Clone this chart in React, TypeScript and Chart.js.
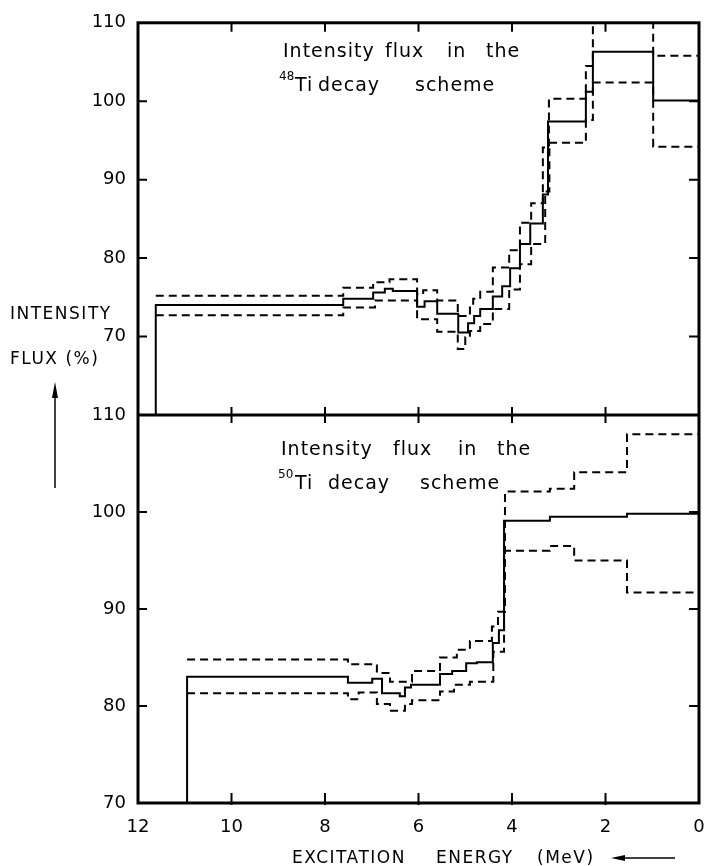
import React, { useEffect, useRef } from 'react';
import { Chart, registerables } from 'chart.js';

Chart.register(...registerables);

// ---------- axes ----------
const X_TICKS = [12, 10, 8, 6, 4, 2, 0];
const TOP_Y_TICKS = [70, 80, 90, 100, 110];
const BOT_Y_TICKS = [70, 80, 90, 100, 110];

// ---------- 48Ti decay scheme (top panel) ----------
const ti48Energy = [11.62, 11.62, 7.61, 6.97, 6.72, 6.55, 6.03, 5.87, 5.6, 5.15, 4.94, 4.81, 4.68, 4.41, 4.21, 4.04, 3.83, 3.61, 3.34, 3.23, 2.42, 2.27, 0.98, 0];
const ti48Flux = [60, 74.0, 74.8, 75.6, 76.1, 75.8, 73.8, 74.5, 72.9, 70.5, 71.7, 72.6, 73.5, 75.1, 76.4, 78.7, 81.8, 84.4, 88.1, 97.4, 101.2, 106.3, 100.1, 100.1];

const ti48UpperEnergy = [11.62, 7.61, 6.97, 6.62, 6.03, 5.9, 5.6, 5.16, 4.9, 4.83, 4.68, 4.41, 4.06, 3.83, 3.59, 3.34, 3.21, 2.42, 2.27, 0.98, 0];
const ti48Upper = [75.2, 76.2, 76.9, 77.3, 75.4, 75.9, 74.6, 72.6, 73.7, 74.8, 75.7, 78.8, 81.0, 84.5, 87.0, 94.1, 100.3, 104.5, 113, 105.8, 105.8];

const ti48LowerEnergy = [11.62, 7.61, 6.93, 6.03, 5.6, 5.16, 5.0, 4.9, 4.68, 4.41, 4.06, 3.83, 3.59, 3.29, 3.2, 2.42, 2.27, 0.98, 0];
const ti48Lower = [72.7, 73.7, 74.6, 72.2, 70.6, 68.4, 69.9, 70.7, 71.6, 73.5, 76.0, 79.2, 81.8, 88.5, 94.7, 97.6, 102.4, 94.2, 94.2];

// ---------- 50Ti decay scheme (bottom panel) ----------
const ti50Energy = [10.95, 10.95, 7.51, 6.99, 6.78, 6.4, 6.29, 6.16, 5.54, 5.28, 4.98, 4.75, 4.41, 4.28, 4.17, 3.19, 1.54, 0];
const ti50Flux = [70, 83.0, 82.4, 82.8, 81.3, 81.0, 81.9, 82.2, 83.3, 83.6, 84.4, 84.5, 86.5, 87.8, 99.1, 99.5, 99.8, 99.8];

const ti50UpperEnergy = [10.95, 7.51, 6.89, 6.61, 6.14, 5.54, 5.18, 4.9, 4.43, 4.3, 4.15, 3.19, 2.67, 1.54, 0];
const ti50Upper = [84.8, 84.3, 83.4, 82.5, 83.6, 85.0, 85.8, 86.7, 88.2, 89.7, 102.1, 102.4, 104.1, 108.0, 108.0];

const ti50LowerEnergy = [10.95, 7.51, 7.28, 6.89, 6.61, 6.29, 6.14, 5.54, 5.24, 4.9, 4.4, 4.17, 3.19, 2.67, 1.54, 0];
const ti50Lower = [81.3, 80.7, 81.4, 80.2, 79.5, 80.2, 80.6, 81.5, 82.2, 82.5, 85.6, 96.0, 96.5, 95.0, 91.7, 91.7];

const FONT = '"DejaVu Sans", sans-serif';

const pts = (e: number[], v: number[]) => e.map((x, i) => ({ x, y: v[i] }));

const framePlugin = {
  id: 'frame',
  afterDatasetsDraw(chart: any) {
    const { ctx, chartArea: a, scales } = chart;
    const xs = scales.x;
    const yt = scales.yTop;
    const yb = scales.yBot;
    const mid = yt.bottom;
    ctx.save();
    ctx.strokeStyle = '#000';
    ctx.lineCap = 'butt';
    ctx.lineWidth = 3;
    ctx.strokeRect(a.left, a.top, a.right - a.left, a.bottom - a.top);
    ctx.beginPath();
    ctx.moveTo(a.left, mid);
    ctx.lineTo(a.right, mid);
    ctx.stroke();
    ctx.lineWidth = 2;
    ctx.beginPath();
    for (const v of X_TICKS) {
      if (v === 0 || v === 12) continue;
      const px = xs.getPixelForValue(v);
      ctx.moveTo(px, a.top);
      ctx.lineTo(px, a.top + 9);
      ctx.moveTo(px, mid - 8);
      ctx.lineTo(px, mid + 8);
      ctx.moveTo(px, a.bottom - 10);
      ctx.lineTo(px, a.bottom + 2);
    }
    for (const v of TOP_Y_TICKS) {
      if (v === 110) continue;
      const py = yt.getPixelForValue(v);
      ctx.moveTo(a.left, py);
      ctx.lineTo(a.left + 9, py);
      ctx.moveTo(a.right - 10, py);
      ctx.lineTo(a.right, py);
    }
    for (const v of BOT_Y_TICKS) {
      if (v === 110 || v === 70) continue;
      const py = yb.getPixelForValue(v);
      ctx.moveTo(a.left, py);
      ctx.lineTo(a.left + 9, py);
      ctx.moveTo(a.right - 10, py);
      ctx.lineTo(a.right, py);
    }
    ctx.stroke();
    ctx.restore();
  },
};

const textPlugin = {
  id: 'texts',
  afterDraw(chart: any) {
    const ctx = chart.ctx;
    ctx.save();
    ctx.fillStyle = '#000';
    ctx.textAlign = 'left';
    ctx.textBaseline = 'alphabetic';
    const word = (t: string, x: number, y: number, size: number, spacing: string) => {
      ctx.font = `${size}px ${FONT}`;
      (ctx as any).letterSpacing = spacing;
      ctx.fillText(t, x, y);
    };
    // top panel caption
    word('Intensity', 283, 57, 19, '1px');
    word('flux', 385, 57, 19, '1px');
    word('in', 447, 57, 19, '1px');
    word('the', 486, 57, 19, '1px');
    word('48', 279, 80, 12, '0px');
    word('Ti', 295, 91, 19, '1px');
    word('decay', 318, 91, 19, '1px');
    word('scheme', 415, 91, 19, '1px');
    // bottom panel caption
    word('Intensity', 281, 455, 19, '1px');
    word('flux', 393, 455, 19, '1px');
    word('in', 458, 455, 19, '1px');
    word('the', 497, 455, 19, '1px');
    word('50', 278, 478, 12, '0px');
    word('Ti', 295, 489, 19, '1px');
    word('decay', 328, 489, 19, '1px');
    word('scheme', 420, 489, 19, '1px');
    // y title
    word('INTENSITY', 10, 319, 17, '1.5px');
    word('FLUX (%)', 10, 364, 17, '1.5px');
    // x title
    word('EXCITATION', 292, 863, 17, '1.5px');
    word('ENERGY', 436, 863, 17, '1.5px');
    word('(MeV)', 537, 863, 17, '1.5px');
    // vertical arrow
    ctx.strokeStyle = '#000';
    ctx.lineWidth = 1.5;
    ctx.beginPath();
    ctx.moveTo(55, 395);
    ctx.lineTo(55, 488);
    ctx.stroke();
    ctx.beginPath();
    ctx.moveTo(55, 382);
    ctx.lineTo(52, 398);
    ctx.lineTo(58, 398);
    ctx.closePath();
    ctx.fill();
    // horizontal arrow
    ctx.beginPath();
    ctx.moveTo(622, 858);
    ctx.lineTo(675, 858);
    ctx.stroke();
    ctx.beginPath();
    ctx.moveTo(611, 858);
    ctx.lineTo(625, 855);
    ctx.lineTo(625, 861);
    ctx.closePath();
    ctx.fill();
    ctx.restore();
  },
};

export default function App() {
  const ref = useRef<HTMLCanvasElement | null>(null);
  useEffect(() => {
    if (!ref.current) return;
    const solid = { borderColor: '#000', borderWidth: 2, pointRadius: 0, fill: false, stepped: true, tension: 0 };
    const dashed = { ...solid, borderWidth: 2, borderDash: [8, 5] };
    const chart = new Chart(ref.current, {
      type: 'line',
      data: {
        datasets: [
          { ...solid, label: '48Ti flux', data: pts(ti48Energy, ti48Flux), xAxisID: 'x', yAxisID: 'yTop' },
          { ...dashed, label: '48Ti upper', data: pts(ti48UpperEnergy, ti48Upper), xAxisID: 'x', yAxisID: 'yTop' },
          { ...dashed, label: '48Ti lower', data: pts(ti48LowerEnergy, ti48Lower), xAxisID: 'x', yAxisID: 'yTop' },
          { ...solid, label: '50Ti flux', data: pts(ti50Energy, ti50Flux), xAxisID: 'x', yAxisID: 'yBot' },
          { ...dashed, label: '50Ti upper', data: pts(ti50UpperEnergy, ti50Upper), xAxisID: 'x', yAxisID: 'yBot' },
          { ...dashed, label: '50Ti lower', data: pts(ti50LowerEnergy, ti50Lower), xAxisID: 'x', yAxisID: 'yBot' },
        ] as any,
      },
      options: {
        animation: false,
        responsive: false,
        devicePixelRatio: 1,
        events: [],
        layout: { padding: { top: 21, right: 7, left: 0, bottom: 0 } },
        plugins: { legend: { display: false }, tooltip: { enabled: false }, title: { display: false } },
        scales: {
          x: {
            type: 'linear',
            position: 'bottom',
            reverse: true,
            min: 0,
            max: 12,
            afterBuildTicks: (s: any) => { s.ticks = X_TICKS.map((v) => ({ value: v })); },
            afterFit: (s: any) => { s.height = 63; s.paddingLeft = 0; s.paddingRight = 0; },
            grid: { display: false, drawTicks: false },
            border: { display: false },
            ticks: { color: '#000', font: { family: FONT, size: 18 }, padding: 14, maxRotation: 0, autoSkip: false },
          },
          yBot: {
            type: 'linear',
            position: 'left',
            stack: 'panels',
            stackWeight: 389,
            weight: 0,
            min: 70,
            max: 110,
            afterBuildTicks: (s: any) => { s.ticks = BOT_Y_TICKS.map((v) => ({ value: v })); },
            afterFit: (s: any) => { s.width = 138; },
            grid: { display: false, drawTicks: false },
            border: { display: false },
            ticks: { color: '#000', font: { family: FONT, size: 18 }, padding: 12, autoSkip: false },
          },
          yTop: {
            type: 'linear',
            position: 'left',
            stack: 'panels',
            stackWeight: 393,
            weight: 1,
            min: 60,
            max: 110,
            afterBuildTicks: (s: any) => { s.ticks = TOP_Y_TICKS.map((v) => ({ value: v })); },
            afterFit: (s: any) => { s.width = 138; },
            grid: { display: false, drawTicks: false },
            border: { display: false },
            ticks: { color: '#000', font: { family: FONT, size: 18 }, padding: 12, autoSkip: false },
          },
        } as any,
      },
      plugins: [framePlugin, textPlugin],
    });
    return () => chart.destroy();
  }, []);
  return (
    <div style={{ position: 'absolute', left: 0, top: 0, width: 706, height: 866, background: '#fff' }}>
      <canvas ref={ref} width={706} height={866} style={{ display: 'block' }} />
    </div>
  );
}
